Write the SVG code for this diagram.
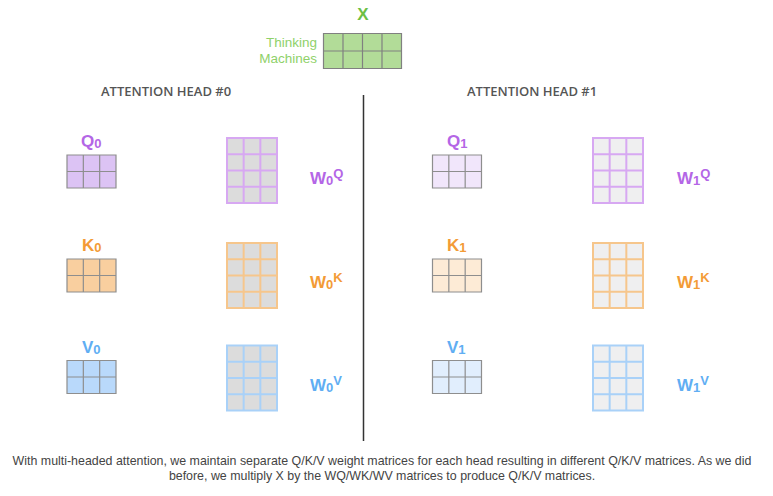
<svg xmlns="http://www.w3.org/2000/svg" xmlns:xlink="http://www.w3.org/1999/xlink" width="773" height="496" viewBox="0 0 773 496">
<style>
  text { font-family: "Liberation Sans", Arial, sans-serif; }
  .lbl { font-size: 17px; font-weight: bold; }
  .sub { font-size: 13px; }
  .head { font-family: "Open Sans", "Liberation Sans", sans-serif; font-size: 13px; font-weight: 600; fill: #555555; }
  .cap { font-size: 12.4px; fill: #444444; text-anchor: middle; }
  .purple { fill: #b466e6; }
  .orange { fill: #f39b36; }
  .blue { fill: #60aef3; }
  .sm { stroke: #8e8e8e; stroke-width: 1.2; }
  .big { stroke-width: 2; }
  .wq { stroke: #d7a8f2; }
  .wk { stroke: #f6c68c; }
  .wv { stroke: #a9d1f8; }
  .w0 { fill: #dcdcdc; }
  .w1 { fill: #efeff0; }
</style>
<defs>
  <path id="g32" d="M0 0H49V33H0Z M16.33 0V33 M32.67 0V33 M0 16.5H49"/>
  <path id="g34" d="M0 0H50V65H0Z M16.67 0V65 M33.33 0V65 M0 16.25H50 M0 32.5H50 M0 48.75H50"/>
  <path id="g42" d="M0 0H78V35H0Z M19.5 0V35 M39 0V35 M58.5 0V35 M0 17.5H78"/>
</defs>

<g id="x-input">
  <text x="363" y="20" text-anchor="middle" style="font-size:17px;font-weight:bold;fill:#6cbf45">X</text>
  <text x="317" y="47" text-anchor="end" style="font-size:13.5px;fill:#8fd16a">Thinking</text>
  <text x="317" y="62.5" text-anchor="end" style="font-size:13.5px;fill:#8fd16a">Machines</text>
  <use xlink:href="#g42" x="323.5" y="33.5" fill="#b2dc98" stroke="#808080" stroke-width="1.2"/>
</g>

<g id="divider">
  <line x1="363.5" y1="95" x2="363.5" y2="441" stroke="#333333" stroke-width="1.5"/>
</g>

<g id="head0-title"><text class="head" x="101" y="96">ATTENTION HEAD #0</text></g>
<g id="head1-title"><text class="head" x="467" y="96">ATTENTION HEAD #1</text></g>

<!-- Head 0 -->
<g id="q0">
  <text class="lbl purple" x="81" y="147">Q<tspan class="sub" dy="1">0</tspan></text>
  <use xlink:href="#g32" x="67" y="155" class="sm" fill="#dcc3f4"/>
</g>
<g id="w0q">
  <use xlink:href="#g34" x="227" y="138" class="big wq w0"/>
  <text class="lbl purple" x="310" y="184">W<tspan class="sub" dy="1">0</tspan><tspan class="sub" dy="-7">Q</tspan></text>
</g>
<g id="k0">
  <text class="lbl orange" x="82" y="251">K<tspan class="sub" dy="1">0</tspan></text>
  <use xlink:href="#g32" x="67" y="259" class="sm" fill="#f9cf9f"/>
</g>
<g id="w0k">
  <use xlink:href="#g34" x="227" y="243" class="big wk w0"/>
  <text class="lbl orange" x="310" y="288">W<tspan class="sub" dy="1">0</tspan><tspan class="sub" dy="-7">K</tspan></text>
</g>
<g id="v0">
  <text class="lbl blue" x="82" y="353">V<tspan class="sub" dy="1">0</tspan></text>
  <use xlink:href="#g32" x="67" y="360.5" class="sm" fill="#b9d9fb"/>
</g>
<g id="w0v">
  <use xlink:href="#g34" x="227" y="345.5" class="big wv w0"/>
  <text class="lbl blue" x="310" y="391">W<tspan class="sub" dy="1">0</tspan><tspan class="sub" dy="-7">V</tspan></text>
</g>

<!-- Head 1 -->
<g id="q1">
  <text class="lbl purple" x="447" y="147">Q<tspan class="sub" dy="1">1</tspan></text>
  <use xlink:href="#g32" x="432.5" y="155" class="sm" fill="#f1e6fb"/>
</g>
<g id="w1q">
  <use xlink:href="#g34" x="593" y="138" class="big wq w1"/>
  <text class="lbl purple" x="677" y="184">W<tspan class="sub" dy="1">1</tspan><tspan class="sub" dy="-7">Q</tspan></text>
</g>
<g id="k1">
  <text class="lbl orange" x="447" y="251">K<tspan class="sub" dy="1">1</tspan></text>
  <use xlink:href="#g32" x="432.5" y="259" class="sm" fill="#fdebd6"/>
</g>
<g id="w1k">
  <use xlink:href="#g34" x="593" y="243" class="big wk w1"/>
  <text class="lbl orange" x="677" y="288">W<tspan class="sub" dy="1">1</tspan><tspan class="sub" dy="-7">K</tspan></text>
</g>
<g id="v1">
  <text class="lbl blue" x="447" y="353">V<tspan class="sub" dy="1">1</tspan></text>
  <use xlink:href="#g32" x="432.5" y="360.5" class="sm" fill="#e1eefd"/>
</g>
<g id="w1v">
  <use xlink:href="#g34" x="593" y="345.5" class="big wv w1"/>
  <text class="lbl blue" x="677" y="391">W<tspan class="sub" dy="1">1</tspan><tspan class="sub" dy="-7">V</tspan></text>
</g>

<g id="caption">
  <text class="cap" x="382" y="465">With multi-headed attention, we maintain separate Q/K/V weight matrices for each head resulting in different Q/K/V matrices. As we did</text>
  <text class="cap" x="382" y="480">before, we multiply X by the WQ/WK/WV matrices to produce Q/K/V matrices.</text>
</g>
</svg>
